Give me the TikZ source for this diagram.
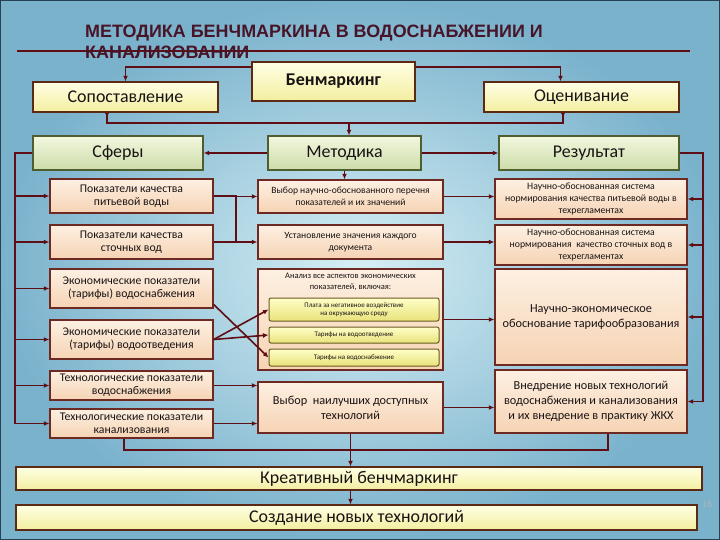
\documentclass[tikz,border=0pt]{standalone}
\usepackage{fontspec}
\setmainfont{Carlito}
\newfontfamily\titlefont{Liberation Sans}
\usepackage{tikz}
\usetikzlibrary{arrows.meta, calc}

\definecolor{wirec}{RGB}{94,14,20}
\definecolor{titlec}{RGB}{72,20,40}
\definecolor{textc}{RGB}{25,20,20}
\definecolor{bgin}{RGB}{214,239,245}
\definecolor{bgout}{RGB}{122,178,204}
\definecolor{bgframe}{RGB}{40,64,84}
\definecolor{ytop}{RGB}{255,255,228}
\definecolor{ybot}{RGB}{243,238,160}
\definecolor{yedge}{RGB}{92,42,20}
\definecolor{gtop}{RGB}{242,247,222}
\definecolor{gbot}{RGB}{204,220,170}
\definecolor{gedge}{RGB}{78,94,48}
\definecolor{ptop}{RGB}{253,240,226}
\definecolor{pbot}{RGB}{246,211,180}
\definecolor{pedge}{RGB}{110,42,34}
\definecolor{subtop}{RGB}{255,255,200}
\definecolor{subbot}{RGB}{232,226,122}
\definecolor{subedge}{RGB}{107,90,32}

\newcommand{\szbig}{\fontsize{18}{20}\selectfont}
\newcommand{\szleft}{\fontsize{11.8}{13}\selectfont}
\newcommand{\szmid}{\fontsize{9.6}{12.5}\selectfont}
\newcommand{\szright}{\fontsize{9.8}{12}\selectfont}
\newcommand{\szlarge}{\fontsize{12.3}{15}\selectfont}
\newcommand{\szanal}{\fontsize{8.5}{10.5}\selectfont}
\newcommand{\szsub}{\fontsize{7}{8.5}\selectfont}

\tikzset{
  wire/.style={draw=wirec, line width=1.6bp},
  conn/.style={wire, -{Latex[length=5.5bp, width=5bp]}},
  panel/.style={draw, line width=1.4bp, align=center, inner sep=2bp, text=textc},
  yellowbox/.style={panel, draw=yedge, top color=ytop, bottom color=ybot},
  greenbox/.style={panel, draw=gedge, top color=gtop, bottom color=gbot},
  peachbox/.style={panel, draw=pedge, top color=ptop, bottom color=pbot},
  subbox/.style={panel, line width=1bp, rounded corners=2bp, draw=subedge,
    top color=subtop, bottom color=subbot, font=\szsub},
}

\begin{document}
\begin{tikzpicture}[x=1bp, y=-1bp]
    \useasboundingbox (0,0) rectangle (720,540);
    % background
    \shade[inner color=bgin, outer color=bgout] (0,0) rectangle (720,540);
    \draw[bgframe, line width=2bp] (0,0) rectangle (720,540);

    % title
    \draw[wirec, line width=2bp] (17,51) -- (690,51);
    \node[anchor=north west, align=left, inner sep=0, text=titlec,
          font=\titlefont\bfseries\fontsize{18}{20.5}\selectfont] at (85, 25) (title)
          {МЕТОДИКА БЕНЧМАРКИНА В ВОДОСНАБЖЕНИИ И\\КАНАЛИЗОВАНИИ};

    % top rows
    \node[yellowbox, font=\szbig\bfseries, minimum width=163bp, minimum height=39bp] at (333.5, 81.5) (benm) {Бенмаркинг};
    \node[yellowbox, font=\szbig, minimum width=185bp, minimum height=30bp] at (125.5, 97)   (sopost) {Сопоставление};
    \node[yellowbox, font=\szbig, minimum width=195bp, minimum height=30bp] at (581.5, 97)   (ocen) {Оценивание};
    \node[greenbox, font=\szbig, minimum width=170bp, minimum height=34bp]  at (118, 153)    (sfery) {Сферы};
    \node[greenbox, font=\szbig, minimum width=153bp, minimum height=34bp]  at (344.5, 153)  (metod) {Методика};
    \node[greenbox, font=\szbig, minimum width=180bp, minimum height=34bp]  at (589, 153)    (rez) {Результат};

    % left column
    \node[peachbox, font=\szleft, minimum width=163bp, minimum height=34bp] at (131.5, 196)   (L1) {Показатели качества\\питьевой воды};
    \node[peachbox, font=\szleft, minimum width=163bp, minimum height=34bp] at (131.5, 242)   (L2) {Показатели качества\\сточных вод};
    \node[peachbox, font=\szleft, minimum width=163bp, minimum height=39bp] at (131.5, 288.5) (L3) {Экономические показатели\\(тарифы) водоснабжения};
    \node[peachbox, font=\szleft, minimum width=163bp, minimum height=39bp] at (131.5, 339.5) (L4) {Экономические показатели\\(тарифы) водоотведения};
    \node[peachbox, font=\szleft, minimum width=163bp, minimum height=29bp] at (131.5, 385.5) (L5) {Технологические показатели\\водоснабжения};
    \node[peachbox, font=\szleft, minimum width=163bp, minimum height=29bp] at (131.5, 423.5) (L6) {Технологические показатели\\канализования};

    % middle column
    \node[peachbox, font=\szmid, minimum width=185bp, minimum height=33bp]  at (350.5, 196.5) (M1) {Выбор научно-обоснованного перечня\\показателей и их значений};
    \node[peachbox, font=\szmid, minimum width=185bp, minimum height=34bp]  at (350.5, 242)   (M2) {Установление значения каждого\\документа};
    \node[peachbox, minimum width=185bp, minimum height=101bp]              at (350.5, 319.5) (M3) {};
    \node[font=\szanal, align=center, text=textc, inner sep=0]              at (350.5, 282)   (M3txt) {Анализ все аспектов экономических\\показателей, включая:};
    \node[subbox, minimum width=170bp, minimum height=23bp] at (354, 309.5) (Y1) {Плата за негативное воздействие\\на окружающую среду};
    \node[subbox, minimum width=170bp, minimum height=16bp] at (354, 335)   (Y2) {Тарифы на водоотведение};
    \node[subbox, minimum width=170bp, minimum height=17bp] at (354, 357.5) (Y3) {Тарифы на водоснабжение};
    \node[peachbox, font=\szlarge, minimum width=185bp, minimum height=51bp] at (350.5, 407.5) (M4) {Выбор\ \ наилучших доступных\\технологий};

    % right column
    \node[peachbox, font=\szright, minimum width=192bp, minimum height=40bp] at (591, 199)   (R1) {Научно-обоснованная система\\нормирования качества питьевой воды в\\техрегламентах};
    \node[peachbox, font=\szright, minimum width=192bp, minimum height=40bp] at (591, 245)   (R2) {Научно-обоснованная система\\нормирования\ \ качество сточных вод в\\техрегламентах};
    \node[peachbox, font=\szlarge, minimum width=192bp, minimum height=96bp] at (591, 317)   (R3) {Научно-экономическое\\обоснование тарифообразования};
    \node[peachbox, font=\szlarge, minimum width=192bp, minimum height=63bp] at (591, 401.5) (R4) {Внедрение новых технологий\\водоснабжения и канализования\\и их внедрение в практику ЖКХ};

    % bottom
    \node[yellowbox, font=\szbig, minimum width=686bp, minimum height=23bp] at (359, 478.5)   (kreat) {Креативный бенчмаркинг};
    \node[yellowbox, font=\szbig, minimum width=681bp, minimum height=25bp] at (356.5, 517.5) (sozd) {Создание новых технологий};
    \node[text=gray!60, font=\fontsize{10}{12}\selectfont] at (707, 504) (pnum) {16};

    % helper points
    \coordinate (bar)   at (349, 123);
    \coordinate (lrail) at (15, 0);
    \coordinate (rrail) at (703, 0);
    \coordinate (brk)   at (236, 0);
    \coordinate (jL)    at (124, 450);
    \coordinate (jR)    at (608, 450);

    % connectors, top
    \draw[conn] ([yshift=14.5bp]benm.west) -| (sopost.north);
    \draw[conn] ([yshift=14.5bp]benm.east) -| ([xshift=-21bp]ocen.north);
    \draw[wire, {Latex[length=4.5bp, width=4.5bp, reversed]}-] ([xshift=-18.5bp]sopost.south) |- (bar);
    \draw[wire, {Latex[length=4.5bp, width=4.5bp, reversed]}-] ([xshift=-18.5bp]ocen.south) |- (bar);
    \draw[conn] (bar) -- (bar |- metod.north);
    \draw[conn] (metod.west) -- (sfery.east);
    \draw[conn] (metod.east) -- (rez.west);
    \draw[conn] (metod.south) -- (metod.south |- M1.north);

    % rails
    \draw[wire] (sfery.west) -| (lrail |- L6.west);
    \foreach \n in {L1,L2,L3,L4,L5,L6}
        \draw[conn] (lrail |- \n.west) -- (\n.west);
    \draw[wire] (rez.east) -| (rrail |- R4.east);
    \foreach \n in {R1,R2,R3,R4}
        \draw[conn] (rrail |- \n.east) -- (\n.east);

    % left to middle
    \draw[wire] (L1.east) -- (brk |- L1.east) -- (brk |- L2.east) -- (L2.east);
    \foreach \n in {M1,M2}
        \draw[conn] (brk |- \n.west) -- (\n.west);
    \draw[conn] ([yshift=-16bp]L3.east) -- (Y3.west);
    \draw[conn] (L4.east) -- (Y1.west);
    \draw[conn] (L4.east) -- (Y2.west);
    \foreach \n in {L5,L6}
        \draw[conn] (\n.east) -- (\n.east -| M4.west);

    % middle to right
    \foreach \n/\m in {M1/R1,M2/R2,M3/R3,M4/R4}
        \draw[conn] (\n.east) -- (\n.east -| \m.west);

    % bottom
    \draw[wire] (L6.south -| jL) -- (jL) -- (jR) -- (jR |- R4.south);
    \draw[conn] (M4.south) -- (M4.south |- kreat.north);
    \draw[conn] (M4.south |- kreat.south) -- (M4.south |- sozd.north);
\end{tikzpicture}
\end{document}
